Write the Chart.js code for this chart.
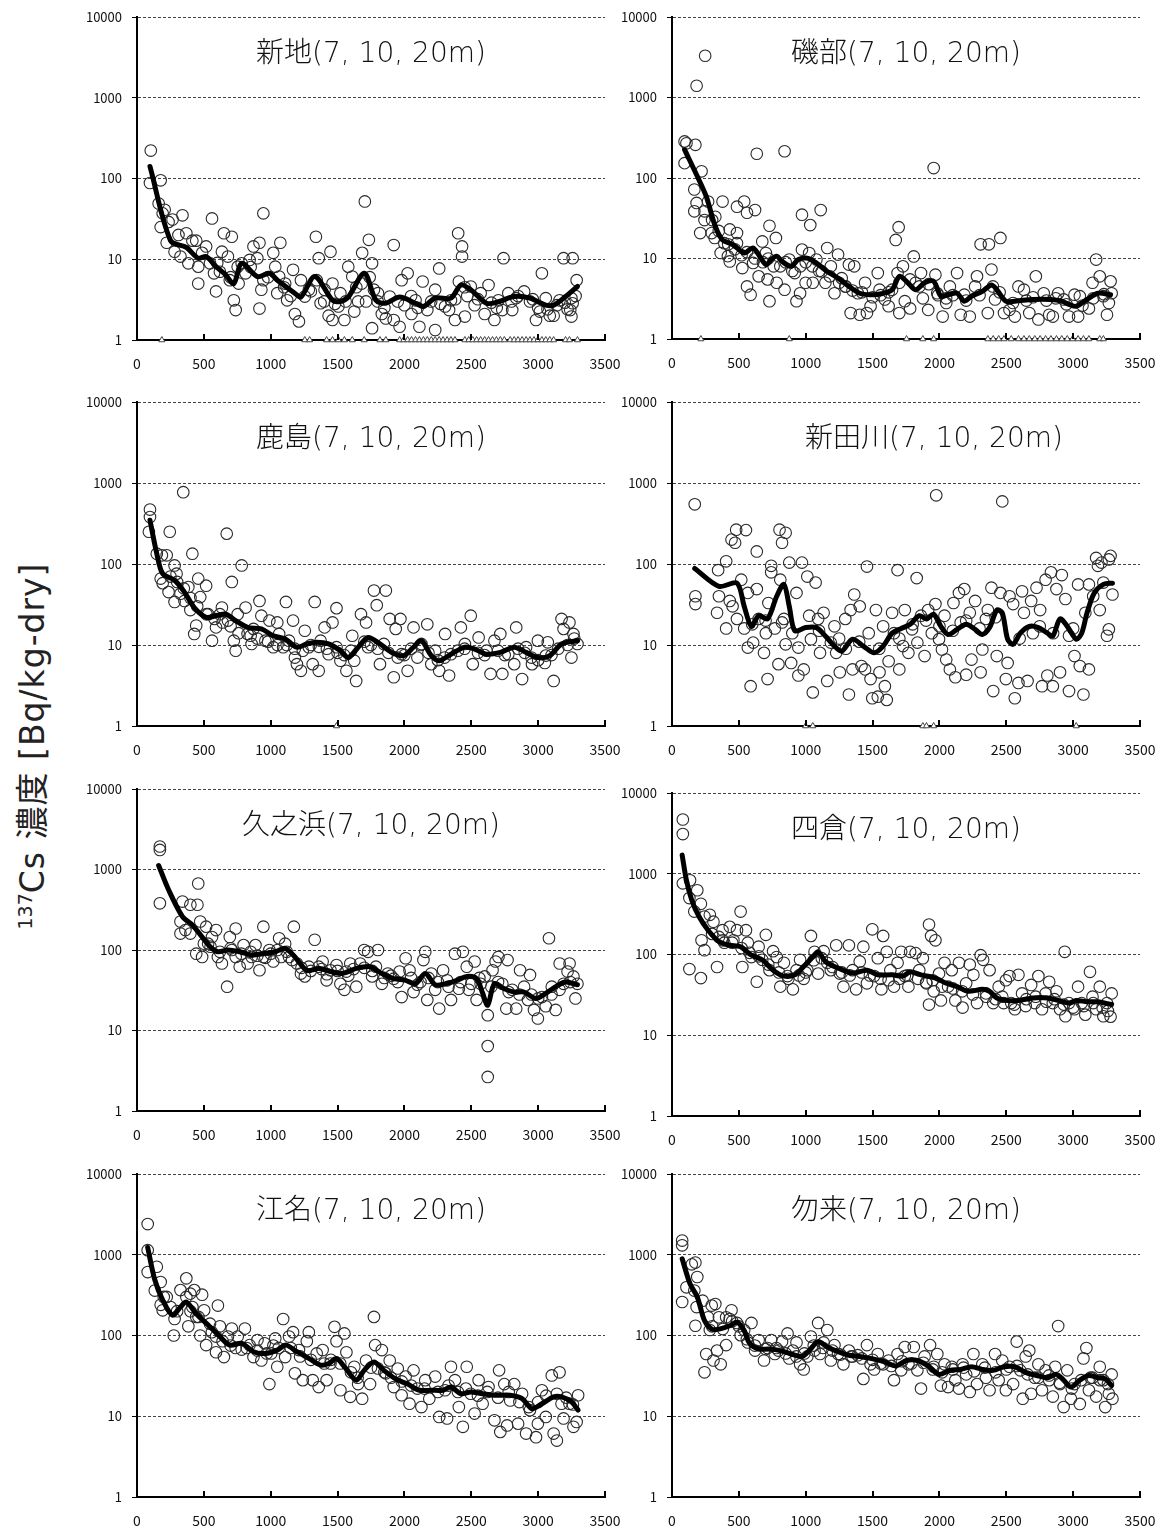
<!DOCTYPE html>
<html>
<head>
<meta charset="utf-8">
<script src="https://cdn.jsdelivr.net/npm/chart.js@4.4.0/dist/chart.umd.min.js"></script>
<style>
  body { margin: 0; background: #fff; width: 1168px; height: 1533px; position: relative; overflow: hidden;
         font-family: "Noto Sans CJK JP", "Noto Sans", sans-serif; }
  canvas { position: absolute; }
  .ttl { position: absolute; font-family: "DejaVu Sans", "Noto Sans CJK JP", sans-serif; font-weight: 300;
         font-size: 28px; line-height: 36px; color: #111; white-space: nowrap; text-align: center; }
  #ylab { position: absolute; left: 30px; top: 746px; transform: translate(-50%, -50%) rotate(-90deg);
          font-family: "DejaVu Sans", "Noto Sans CJK JP", sans-serif; letter-spacing: 1px;
          white-space: nowrap; font-size: 33px; color: #222; }
  #ylab sup { font-size: 19px; letter-spacing: 0; }
</style>
</head>
<body>
<div id="ylab"><sup>137</sup>Cs 濃度 [Bq/kg-dry]</div>
<script>
// ---- data: [elapsed days, Bq/kg-dry] ----
const xTicks = [0, 500, 1000, 1500, 2000, 2500, 3000, 3500];
const yTicks = [1, 10, 100, 1000, 10000];

// 新地
const shinchiPts = [[103,222],[97,88],[177,95],[162,49],[207,41],[177,25],[192,37],[236,29],[266,31],[340,35],[222,16],[281,12.4],[325,10.8],[310,20],[369,21],[414,17],[443,17],[384,8.9],[458,5],[458,8.1],[517,14.4],[487,12],[546,8.9],[561,32],[576,6.7],[591,4],[635,12.4],[650,21],[680,10.8],[709,19],[724,3.1],[738,2.35],[694,5.5],[753,8.1],[783,8.9],[812,6.7],[842,9.8],[871,14.4],[900,10.3],[916,2.45],[916,16],[945,37],[930,4.2],[945,5.5],[1019,12],[1034,8.1],[1049,3.8],[1072,16],[1063,6.1],[1108,5],[1123,3.1],[1167,7.4],[1181,2.1],[1211,1.7],[1226,5.5],[1255,3.45],[1285,4.2],[1338,19],[1344,5.5],[1359,10.3],[1373,2.85],[1403,4.2],[1433,2],[1447,12.4],[1462,5],[1462,1.77],[1506,2.6],[1521,3.8],[1551,1.77],[1580,8.1],[1610,6.1],[1625,2.25],[1654,3],[1684,12],[1704,52],[1713,3],[1734,17.4],[1758,8.9],[1758,1.4],[1772,4.2],[1802,3.8],[1831,2.1],[1861,1.85],[1890,3.45],[1920,15],[1920,1.77],[1964,1.46],[1979,5.5],[2024,6.7],[2053,2.1],[2083,3.1],[2112,1.46],[2136,5.3],[2171,2.35],[2230,1.33],[2230,4.2],[2260,7.7],[2304,2.6],[2334,2.35],[2348,3.1],[2378,1.77],[2402,21],[2431,14.4],[2431,10.8],[2407,5.3],[2452,1.95],[2496,4.6],[2525,2.7],[2570,3.8],[2600,2.1],[2629,4.8],[2673,1.77],[2703,3.1],[2732,2.35],[2741,10.3],[2777,3.8],[2806,2.35],[2836,3.3],[2895,4],[2939,3],[2984,1.77],[3028,6.7],[3013,2.25],[3057,3.3],[3087,2],[3116,2],[3160,3.1],[3190,10.3],[3258,10.3],[3249,3.3],[3249,1.95],[3258,2.85],[3288,5.5],[3240,2.35],
  [600,9],[620,7],[700,6],[760,5],[850,8],[980,6],[1100,4.5],[1150,3.5],[1300,4],[1400,3],[1480,2.8],[1560,3],[1640,4.5],[1680,5],[1740,6],[1800,3],[1850,2.5],[1950,3],[2000,2.7],[2050,3.5],[2100,2.5],[2200,3],[2270,2.8],[2380,3.2],[2450,4.5],[2470,3.5],[2550,3.2],[2650,2.9],[2690,2.5],[2800,3],[2850,3.5],[2960,3.2],[3000,2.5],[3070,2.4],[3140,2.7],[3200,2.9],[3220,2.4],[3280,3.5]];
const shinchiAvg = [[97,141],[251,17],[369,14],[458,10.3],[517,10.8],[591,8.1],[660,6.5],[724,5],[783,8.9],[900,6.1],[990,6.7],[1050,5.5],[1180,3.8],[1226,3.4],[1330,6.1],[1462,3.1],[1520,3],[1580,3.4],[1700,6.7],[1787,3.1],[1860,2.85],[1964,3.4],[2083,2.85],[2142,2.6],[2230,3.3],[2348,3.3],[2422,4.8],[2496,4.2],[2614,2.85],[2703,2.98],[2821,3.45],[2939,3.3],[3057,2.7],[3116,2.7],[3205,3.45],[3294,4.6]];
const shinchiNd = [186,1255,1291,1418,1462,1506,1551,1610,1699,1817,1861,1964,1994,2024,2053,2083,2112,2142,2171,2201,2230,2260,2289,2319,2348,2378,2452,2481,2511,2540,2570,2600,2629,2659,2688,2717,2747,2791,2821,2850,2880,2910,2939,2969,2998,3028,3057,3087,3116,3205,3234,3294];

// 磯部
const isobePts = [[94,285],[108,270],[175,258],[94,153],[184,1400],[248,3300],[221,121],[167,72],[184,49],[167,38.6],[211,20.7],[243,38.6],[270,51],[243,30],[297,20.7],[324,33],[319,18],[378,51],[364,11.7],[391,15.5],[432,23],[418,10.7],[432,9.2],[486,44],[486,20.7],[486,15.5],[526,7.6],[540,51],[561,37],[561,4.5],[588,3.55],[621,40],[634,200],[607,8.8],[648,6],[675,16.3],[702,11.7],[715,5.5],[729,2.95],[729,25.5],[777,18],[783,5],[810,8],[842,215],[842,4.1],[877,9.7],[918,6.6],[931,2.95],[958,3.7],[972,35],[972,12.9],[1026,11.7],[1034,26],[999,5],[1053,5],[1080,9.7],[1112,40],[1120,6.9],[1147,5],[1161,13.5],[1188,8],[1215,3.7],[1242,11.2],[1269,5.7],[1296,4.5],[1323,8.4],[1336,2.1],[1363,8],[1390,3.7],[1404,2],[1444,5],[1458,2.1],[1485,2.55],[1539,6.6],[1552,4.1],[1592,3.1],[1620,2.55],[1646,4.1],[1673,17],[1695,24.5],[1687,6.6],[1700,2.1],[1727,8],[1741,2.95],[1781,2.4],[1808,10.6],[1822,5],[1862,6.6],[1876,3.2],[1916,2.3],[1957,133],[1970,6.3],[1984,3.7],[2024,1.9],[2051,2.8],[2078,4.5],[2132,6.6],[2159,2],[2186,3.55],[2227,1.9],[2267,4.5],[2281,6],[2308,15],[2370,15],[2389,7.3],[2362,2.1],[2416,3.1],[2456,18],[2483,2.1],[2524,2.3],[2564,1.9],[2591,4.5],[2632,4.1],[2672,2.1],[2721,6],[2740,1.75],[2780,3.7],[2821,2],[2848,1.9],[2888,3.7],[2929,3.1],[2969,1.9],[3010,3.55],[3037,1.9],[3050,3.4],[3118,2.4],[3145,5],[3172,9.7],[3199,6],[3226,3.4],[3253,2],[3267,2.8],[3280,5.2],[3288,3.7],
  [300,30],[350,22],[420,15],[470,13],[520,11],[560,12],[620,10],[680,9],[720,10],[760,8],[850,9],[900,7],[960,8],[1000,9],[1050,8],[1100,7],[1180,6],[1250,5],[1300,4.5],[1350,4],[1420,3.8],[1500,3.3],[1560,3.5],[1620,3.8],[1700,5],[1780,5.5],[1850,4.5],[1920,4.8],[1990,3.5],[2050,3.2],[2100,3.5],[2200,3],[2300,3.5],[2400,4.5],[2450,3.8],[2550,2.8],[2650,3],[2700,3.3],[2800,3],[2870,3.2],[2950,2.7],[3070,2.6],[3150,3.2],[3230,3.6]];
const isobeAvg = [[94,225],[189,105],[256,59],[324,25],[378,17],[459,14.8],[540,11.7],[607,13.5],[702,8.4],[742,9.7],[783,10.7],[823,9.2],[891,8],[945,9.7],[1012,10.1],[1080,8.8],[1161,6.9],[1242,5.7],[1323,4.5],[1404,3.7],[1485,3.55],[1566,3.65],[1646,4.1],[1700,6],[1754,5.2],[1822,4.1],[1889,5],[1957,5.2],[2011,3.4],[2065,3.55],[2132,3.7],[2186,2.95],[2240,3.4],[2321,3.9],[2389,4.7],[2429,4.1],[2497,2.95],[2564,2.95],[2699,3.1],[2834,3.1],[2915,2.95],[2969,2.7],[3023,2.55],[3104,3.1],[3185,3.7],[3280,3.55]];
const isobeNd = [216,877,1754,1876,1957,2362,2402,2443,2483,2537,2591,2632,2672,2713,2753,2794,2834,2875,2915,2956,2996,3037,3077,3118,3199,3226];

// 鹿島
const kashimaPts = [[97,470],[97,380],[89,250],[245,250],[346,770],[186,128],[222,128],[148,134],[281,96],[177,66],[192,58],[236,45],[296,76],[281,34],[325,43],[355,35],[414,134],[399,27],[384,52],[443,17.4],[428,13.7],[458,66],[473,39],[517,54],[532,24],[561,11.3],[591,16.5],[620,24],[635,29],[671,237],[680,20],[709,60],[724,11.3],[738,8.5],[753,24],[783,96],[812,29],[827,13.7],[857,10.3],[871,15.8],[916,35],[930,23],[960,11.3],[990,20],[1019,9.4],[1049,19],[1063,13.7],[1093,9.4],[1114,34],[1137,11.3],[1167,20],[1181,7],[1196,5.8],[1226,4.8],[1255,15],[1285,9.4],[1314,5.8],[1329,34],[1359,4.8],[1373,11.3],[1403,16.5],[1433,7.7],[1462,19],[1492,28.5],[1492,9.4],[1521,6.4],[1566,4.8],[1610,13],[1639,3.6],[1625,6.4],[1675,24],[1713,19],[1728,9.4],[1772,47],[1793,31],[1817,5.8],[1861,47],[1846,10.3],[1890,21],[1920,4],[1935,15.8],[1970,21],[1979,7.7],[2024,4.8],[2068,16.5],[2097,7],[2127,10.3],[2171,18],[2201,5.8],[2230,8.5],[2260,4.8],[2304,13.7],[2334,4.2],[2348,7.7],[2422,16.5],[2452,10.3],[2496,23],[2511,5.8],[2555,12.4],[2614,8.5],[2644,4.4],[2673,11.3],[2717,13.7],[2732,4.4],[2777,7.7],[2836,16.5],[2821,5.8],[2880,3.8],[2910,9.4],[2954,5.8],[2998,11.3],[3057,7.4],[3072,10.8],[3116,3.6],[3175,21],[3190,15.8],[3234,19],[3249,7],[3264,13.7],[3294,10.3],
  [250,70],[300,60],[350,50],[400,38],[450,30],[520,24],[580,21],[640,19],[700,17],[760,14],[850,13],[900,12],[980,11],[1050,10],[1120,10],[1180,9],[1240,8.5],[1300,10],[1360,9.5],[1420,9],[1500,8],[1550,7.5],[1600,8.5],[1700,11],[1750,10],[1800,9],[1880,8],[1950,7],[2000,7.5],[2050,9],[2120,10],[2180,8],[2250,6.5],[2300,7],[2400,8.5],[2450,9],[2550,8],[2600,7.5],[2700,8.5],[2750,7.5],[2850,9],[2900,8],[2950,7],[3000,6.5],[3050,6],[3100,7.5],[3150,9],[3220,10],[3270,12]];
const kashimaAvg = [[97,347],[148,134],[192,76],[281,63],[355,45],[428,29],[517,22],[591,23],[665,24],[738,20],[827,16.5],[930,15.8],[1019,13],[1108,11.9],[1196,9.4],[1270,10.3],[1344,10.8],[1433,10.3],[1521,8.5],[1580,7],[1654,9.4],[1728,12.4],[1817,10.3],[1905,8.1],[1994,7.4],[2068,9.4],[2127,11.3],[2201,7.4],[2260,6.4],[2348,7.7],[2452,9.4],[2525,8.9],[2614,7.7],[2717,8.1],[2821,9.4],[2910,8.1],[2998,7],[3087,7.4],[3175,10.3],[3294,11.3]];
const kashimaNd = [1492];

// 新田川
const nittaPts = [[170,546],[175,40],[175,32],[345,84],[337,25],[351,40],[405,108],[405,16],[432,35],[445,200],[472,183],[453,30],[486,21],[480,265],[518,64],[540,16],[553,262],[567,44],[567,9.3],[588,3.1],[607,10.7],[634,143],[634,49],[648,21],[702,14],[688,8],[715,3.8],[721,33],[742,79],[742,95],[769,16],[796,5.8],[804,265],[823,183],[810,64],[823,19],[837,21],[850,243],[850,10.2],[877,104],[891,6],[931,44],[945,9.3],[945,4.2],[972,104],[985,5],[1012,70],[1026,23],[1039,11.8],[1053,2.6],[1074,59],[1093,21],[1107,8],[1134,25],[1161,3.6],[1188,10.7],[1215,17],[1228,8],[1255,4.6],[1296,21],[1323,2.45],[1336,27],[1350,5],[1363,42],[1404,30],[1417,5.5],[1444,5],[1458,93],[1471,14],[1485,3.8],[1498,2.2],[1525,27],[1539,2.3],[1552,4.6],[1579,17],[1592,3.1],[1606,2.1],[1620,6.3],[1646,25],[1660,14],[1687,84],[1700,5],[1727,9.7],[1741,27],[1768,8],[1795,15.6],[1830,67],[1835,10.7],[1862,23],[1889,7.3],[1916,27],[1943,14],[1970,32],[1976,705],[1997,11.8],[2019,8.8],[2038,23],[2051,6.6],[2078,5],[2105,33],[2119,4],[2146,44],[2159,19],[2186,49],[2200,4.3],[2227,25],[2240,6.6],[2267,35],[2308,4.6],[2321,8.8],[2348,21],[2362,27],[2389,51],[2402,2.7],[2429,7.3],[2470,593],[2456,44],[2497,3.8],[2510,6],[2524,40],[2551,32],[2564,2.2],[2591,3.4],[2618,46],[2632,25],[2659,3.6],[2686,35],[2699,14],[2726,51],[2753,27],[2767,3.1],[2794,64],[2807,4.2],[2834,79],[2848,3.1],[2875,49],[2902,4.6],[2915,73],[2942,37],[2969,13],[2969,2.7],[3010,7.3],[3037,56],[3050,5.5],[3077,2.45],[3091,25],[3118,56],[3118,5],[3172,119],[3185,95],[3199,27],[3212,104],[3226,59],[3253,13],[3267,114],[3280,126],[3267,15.6],[3294,42],
  [600,18],[700,20],[900,14],[1100,15],[1250,12],[1300,9],[1400,11],[1550,9],[1700,12],[1800,18],[1900,20],[2000,17],[2100,15],[2200,20],[2300,16],[2420,22],[2600,12],[2750,17],[2850,14],[3000,16],[3150,40]];
const nittaAvg = [[170,88],[351,53],[486,58],[540,30],[594,17],[648,23],[715,21],[783,40],[837,56],[877,30],[918,15],[999,16.4],[1080,16.4],[1147,12.9],[1215,9.7],[1269,8.4],[1350,11.8],[1431,9.7],[1512,8],[1579,9.7],[1646,14],[1714,16],[1781,18],[1849,23],[1903,21],[1957,24],[2011,17],[2065,13.5],[2132,15.6],[2200,18],[2267,15.6],[2321,13.5],[2375,16.4],[2429,27],[2470,25],[2510,11.8],[2551,10.2],[2605,14],[2672,17],[2740,16.4],[2807,14],[2848,12.9],[2902,21],[2956,17],[3023,11.8],[3064,14],[3104,25],[3158,44],[3226,56],[3294,58]];
const nittaNd = [999,1053,1876,1903,1957,3023];

// 久之浜
const hisanohamaPts = [[171,1930],[171,1750],[171,380],[340,400],[325,226],[399,365],[325,160],[362,177],[399,160],[458,670],[452,365],[473,226],[443,90],[487,82],[517,195],[532,120],[561,145],[591,177],[605,82],[635,68],[674,35],[694,145],[709,100],[738,185],[738,82],[768,62],[797,115],[827,68],[857,82],[886,115],[916,56],[945,195],[945,82],[990,100],[1019,72],[1063,140],[1078,82],[1108,120],[1137,82],[1173,195],[1196,68],[1226,51],[1255,47],[1285,62],[1329,134],[1359,62],[1388,72],[1418,42],[1447,56],[1492,65],[1521,38],[1551,32],[1566,54],[1595,68],[1640,35],[1669,68],[1699,100],[1728,95],[1758,47],[1787,62],[1802,100],[1831,38],[1876,51],[1920,44],[1964,54],[1979,26],[2009,79],[2038,56],[2068,30],[2097,37],[2142,75],[2156,95],[2171,24],[2201,51],[2230,32],[2260,18.7],[2289,56],[2319,42],[2348,24],[2378,90],[2407,33],[2437,95],[2466,62],[2481,32],[2525,72],[2540,24],[2570,38],[2600,47],[2623,15.5],[2623,6.4],[2623,2.65],[2659,56],[2682,72],[2703,82],[2732,38],[2762,18.7],[2771,75],[2806,32],[2836,18.7],[2865,56],[2895,35],[2924,24],[2939,49],[2969,18],[2998,14.1],[3028,26],[3081,140],[3057,20],[3102,35],[3131,18],[3161,68],[3190,38],[3220,54],[3235,68],[3264,47],[3279,25],[3294,38],
  [500,120],[550,110],[620,95],[700,105],[780,90],[850,95],[900,85],[960,80],[1000,90],[1050,100],[1120,95],[1160,75],[1230,60],[1300,55],[1380,58],[1420,50],[1500,55],[1580,48],[1620,58],[1700,60],[1760,55],[1850,45],[1900,48],[1950,40],[2050,45],[2120,40],[2180,45],[2250,40],[2330,35],[2420,40],[2500,38],[2560,45],[2650,35],[2700,40],[2780,30],[2860,28],[2950,28],[3000,25],[3100,28],[3160,32],[3240,40]];
const hisanohamaAvg = [[162,1120],[236,560],[340,260],[414,205],[487,145],[546,110],[605,95],[680,100],[768,95],[857,87],[945,90],[1034,95],[1108,105],[1181,82],[1270,56],[1359,59],[1447,54],[1536,51],[1640,59],[1743,62],[1831,51],[1920,44],[2009,42],[2083,38],[2156,51],[2230,37],[2304,38],[2393,42],[2466,47],[2540,44],[2585,29],[2623,20.6],[2673,38],[2747,33],[2821,30],[2895,30],[2984,25],[3057,29],[3131,35],[3205,40],[3294,37]];
const hisanohamaNd = [];

// 四倉
const yotsukuraPts = [[81,4700],[81,3100],[81,760],[135,830],[130,500],[189,625],[167,340],[216,425],[243,295],[221,150],[130,66],[216,51],[243,113],[283,310],[310,255],[337,70],[351,165],[378,200],[391,140],[432,220],[459,150],[486,200],[513,340],[526,70],[553,200],[567,140],[594,93],[634,46],[648,125],[675,86],[702,175],[729,64],[756,110],[783,93],[810,40],[837,79],[864,54],[904,37],[931,64],[958,86],[985,50],[1012,64],[1039,170],[1066,108],[1093,58],[1134,110],[1161,79],[1188,64],[1228,130],[1255,58],[1282,40],[1323,130],[1350,64],[1377,37],[1404,82],[1431,125],[1458,44],[1498,205],[1512,54],[1539,90],[1579,170],[1566,37],[1606,108],[1633,64],[1660,40],[1687,79],[1714,108],[1741,54],[1768,40],[1781,108],[1822,104],[1849,64],[1876,90],[1903,44],[1922,235],[1938,170],[1970,150],[1922,24],[1957,35],[1997,58],[2011,27],[2038,79],[2065,40],[2092,64],[2119,27],[2146,79],[2173,22],[2200,44],[2227,75],[2254,56],[2281,25],[2308,98],[2327,86],[2348,33],[2375,64],[2402,25],[2443,40],[2470,30],[2497,48],[2524,54],[2537,25],[2564,21],[2591,56],[2618,33],[2645,23],[2686,42],[2713,25],[2740,54],[2767,21],[2794,33],[2821,46],[2848,25],[2875,35],[2902,21],[2937,108],[2942,17.2],[2969,25],[3010,21],[3037,40],[3064,25],[3091,18],[3126,61],[3145,30],[3172,21],[3199,40],[3226,17.2],[3253,25],[3280,17],[3288,33],
  [300,180],[380,150],[450,140],[520,120],[580,105],[650,95],[720,75],[800,60],[870,50],[950,55],[1000,60],[1060,85],[1120,90],[1200,70],[1270,60],[1330,55],[1420,60],[1480,55],[1560,50],[1620,48],[1700,50],[1760,55],[1840,50],[1900,45],[1950,48],[2020,40],[2100,38],[2170,35],[2250,32],[2350,30],[2420,28],[2480,25],[2560,24],[2650,28],[2720,30],[2800,26],[2860,28],[2930,24],[3000,22],[3080,23],[3150,25],[3220,22],[3260,20]];
const yotsukuraAvg = [[76,1700],[108,830],[148,470],[202,295],[270,200],[351,145],[432,130],[513,125],[594,98],[675,86],[756,64],[837,54],[918,56],[985,71],[1053,93],[1093,108],[1147,82],[1242,68],[1350,59],[1458,64],[1539,56],[1646,56],[1727,54],[1781,61],[1862,56],[1970,51],[2051,44],[2132,40],[2213,35],[2321,37],[2375,35],[2429,29],[2510,27],[2591,27],[2699,29],[2807,29],[2888,27],[2969,25],[3023,27],[3104,26],[3185,26],[3288,24]];
const yotsukuraNd = [];

// 江名
const enaPts = [[80,2400],[80,1140],[80,610],[148,710],[133,360],[177,460],[192,205],[177,240],[222,300],[251,225],[281,160],[275,100],[325,365],[369,510],[369,300],[399,330],[428,365],[384,130],[414,225],[443,170],[473,100],[487,320],[502,205],[517,76],[546,140],[591,97],[591,62],[605,235],[620,130],[650,54],[680,97],[709,122],[738,70],[753,97],[783,67],[807,122],[842,76],[871,54],[901,88],[930,49],[955,80],[990,25],[1004,60],[1034,92],[1049,41],[1093,160],[1108,54],[1137,97],[1167,110],[1181,34],[1211,66],[1240,28],[1270,85],[1285,110],[1314,28],[1344,60],[1359,23],[1388,66],[1418,28],[1447,45],[1477,128],[1492,85],[1521,21],[1551,106],[1566,62],[1595,17.4],[1625,41],[1654,25],[1684,16.5],[1713,49],[1743,25],[1772,170],[1781,76],[1802,39],[1831,66],[1861,34],[1890,49],[1920,23],[1950,39],[1979,18.2],[2009,31],[2038,14.3],[2068,37],[2097,22],[2127,13],[2156,28],[2186,16.5],[2230,31],[2260,9.8],[2304,21],[2319,9.4],[2348,41],[2378,28],[2407,13],[2437,7.4],[2466,41],[2496,19],[2525,10.8],[2555,28],[2585,14.3],[2629,23],[2673,8.9],[2708,37],[2717,6.4],[2747,25],[2768,7.7],[2791,15.7],[2821,25],[2850,8.1],[2880,19],[2910,6.1],[2939,11.9],[2984,5.5],[2998,8.1],[3028,21],[3057,9.8],[3102,32],[3116,6.1],[3140,5],[3160,35],[3175,14.3],[3190,9.4],[3234,14.3],[3264,7.4],[3288,8.5],[3299,18.2],
  [200,300],[300,200],[400,200],[460,170],[560,110],[640,85],[700,75],[820,70],[900,65],[970,60],[1020,75],[1060,70],[1150,70],[1220,55],[1300,50],[1400,45],[1450,50],[1520,45],[1600,35],[1650,30],[1750,40],[1850,35],[1900,30],[1980,27],[2050,24],[2150,22],[2250,20],[2330,24],[2400,20],[2460,22],[2550,18],[2620,20],[2700,17],[2780,20],[2860,15],[2930,13],[3000,15],[3060,18],[3140,19],[3210,17],[3260,14]];
const enaAvg = [[80,1230],[133,490],[192,275],[266,178],[325,225],[369,260],[443,186],[532,135],[620,97],[694,76],[783,80],[871,63],[960,60],[1049,66],[1114,76],[1196,63],[1285,52],[1373,43],[1433,45],[1492,52],[1551,41],[1640,28],[1699,37],[1772,47],[1846,37],[1935,29],[2024,25],[2112,21],[2201,21],[2289,21],[2348,23],[2422,19],[2496,20],[2585,19],[2688,18.2],[2791,18.2],[2880,16.5],[2954,12.4],[3028,14.3],[3116,17.4],[3175,17.4],[3249,15.1],[3299,11.9]];
const enaNd = [];

// 勿来
const nakosoPts = [[76,1500],[76,1310],[76,260],[108,395],[148,760],[175,800],[189,530],[167,360],[184,225],[175,132],[229,270],[243,35],[256,59],[270,168],[297,235],[283,117],[310,49],[324,245],[337,65],[351,168],[364,44],[405,76],[405,168],[432,160],[445,205],[486,143],[513,101],[540,117],[567,82],[594,143],[621,65],[648,88],[688,49],[715,70],[742,88],[769,59],[796,65],[823,84],[864,106],[877,52],[904,65],[931,82],[958,44],[985,38],[1012,55],[1039,97],[1066,65],[1093,143],[1107,59],[1134,82],[1161,117],[1188,49],[1215,76],[1242,59],[1282,44],[1323,65],[1350,55],[1390,57],[1431,29],[1458,76],[1485,44],[1512,38],[1539,59],[1579,44],[1620,49],[1660,28],[1687,59],[1714,37],[1741,72],[1768,44],[1808,72],[1835,37],[1862,22],[1889,55],[1930,76],[1957,41],[1984,59],[2011,24],[2038,44],[2065,23],[2092,41],[2119,28],[2146,22],[2173,44],[2200,33],[2227,20],[2254,59],[2281,25],[2321,44],[2348,30],[2375,21],[2416,59],[2443,28],[2470,49],[2497,21],[2524,41],[2551,25],[2578,84],[2605,37],[2623,16.5],[2645,55],[2672,65],[2686,19],[2713,30],[2740,44],[2767,21],[2794,37],[2821,28],[2848,17.5],[2866,41],[2888,131],[2902,25],[2929,13],[2956,37],[2983,16.5],[3010,25],[3050,14.2],[3077,52],[3099,70],[3118,21],[3145,30],[3172,17.5],[3199,41],[3226,28],[3240,13],[3267,19],[3288,33],[3294,16.5],
  [300,130],[380,120],[450,150],[500,130],[560,90],[620,75],[700,68],[780,70],[850,60],[930,55],[990,60],[1060,75],[1130,70],[1200,65],[1260,58],[1340,55],[1420,52],[1500,50],[1560,45],[1640,42],[1720,48],[1790,45],[1880,46],[1950,38],[2020,35],[2100,38],[2180,40],[2260,36],[2340,40],[2420,35],[2500,38],[2580,42],[2660,33],[2740,30],[2820,32],[2900,26],[2990,22],[3060,28],[3130,30],[3200,28],[3260,25]];
const nakosoAvg = [[76,890],[135,435],[189,300],[243,153],[297,120],[351,120],[432,132],[486,146],[540,115],[580,80],[648,68],[729,68],[810,65],[891,59],[972,55],[1026,65],[1093,84],[1161,72],[1242,63],[1323,57],[1404,55],[1485,52],[1592,47],[1673,42],[1754,49],[1835,49],[1916,42],[1997,33],[2078,37],[2159,38],[2240,41],[2321,38],[2402,37],[2483,41],[2564,41],[2645,35],[2726,32],[2807,30],[2875,33],[2929,28],[2983,23],[3050,28],[3118,32],[3185,30],[3240,29],[3288,24]];
const nakosoNd = [];

// ---- layout ----
const panels = [
  { title: '新地(7, 10, 20m)',   pts: shinchiPts,    avg: shinchiAvg,    nd: shinchiNd,    left: 137, top: 17,   h: 323, shift: 0 },
  { title: '磯部(7, 10, 20m)',   pts: isobePts,      avg: isobeAvg,      nd: isobeNd,      left: 672, top: 17,   h: 322, shift: 0 },
  { title: '鹿島(7, 10, 20m)',   pts: kashimaPts,    avg: kashimaAvg,    nd: kashimaNd,    left: 137, top: 402,  h: 324, shift: 0 },
  { title: '新田川(7, 10, 20m)', pts: nittaPts,      avg: nittaAvg,      nd: nittaNd,      left: 672, top: 402,  h: 324, shift: 28 },
  { title: '久之浜(7, 10, 20m)', pts: hisanohamaPts, avg: hisanohamaAvg, nd: hisanohamaNd, left: 137, top: 789,  h: 322, shift: 0 },
  { title: '四倉(7, 10, 20m)',   pts: yotsukuraPts,  avg: yotsukuraAvg,  nd: yotsukuraNd,  left: 672, top: 793,  h: 323, shift: 0 },
  { title: '江名(7, 10, 20m)',   pts: enaPts,        avg: enaAvg,        nd: enaNd,        left: 137, top: 1174, h: 323, shift: 0 },
  { title: '勿来(7, 10, 20m)',   pts: nakosoPts,     avg: nakosoAvg,     nd: nakosoNd,     left: 672, top: 1174, h: 323, shift: 0 }
];
const AXW = 70, PADT = 22, PADR = 36, XAXH = 38, PW = 468;
const tickFont = { family: '"Noto Sans CJK JP", "Noto Sans", sans-serif' };

// small upward tick marks on the x axis, like the original
const innerTicks = {
  id: 'innerTicks',
  afterDatasetsDraw(chart) {
    const xs = chart.scales.x, ctx = chart.ctx, b = chart.chartArea.bottom;
    ctx.save();
    ctx.strokeStyle = '#000';
    ctx.lineWidth = 2;
    xTicks.slice(1).forEach(v => {
      const px = Math.round(xs.getPixelForValue(v));
      ctx.beginPath(); ctx.moveTo(px, b); ctx.lineTo(px, b - 6); ctx.stroke();
    });
    ctx.restore();
  }
};

panels.forEach(p => {
  const cv = document.createElement('canvas');
  const w = AXW + PW + PADR, h = PADT + p.h + XAXH;
  cv.width = w; cv.height = h;
  cv.style.left = (p.left - AXW) + 'px';
  cv.style.top = (p.top - PADT) + 'px';
  cv.style.width = w + 'px'; cv.style.height = h + 'px';
  document.body.appendChild(cv);

  new Chart(cv, {
    type: 'scatter',
    data: {
      datasets: [
        {
          type: 'line',
          data: p.avg.map(([x, y]) => ({ x, y })),
          borderColor: '#000',
          borderWidth: 5,
          pointRadius: 0,
          tension: 0.3,
          borderJoinStyle: 'round',
          borderCapStyle: 'round',
          order: 0
        },
        {
          data: p.pts.map(([x, y]) => ({ x, y })),
          pointRadius: 5.8,
          pointBackgroundColor: 'rgba(0,0,0,0)',
          pointBorderColor: '#2a2a2a',
          pointBorderWidth: 1.1,
          order: 1
        },
        {
          data: p.nd.map(x => ({ x, y: 1 })),
          pointStyle: 'triangle',
          pointRadius: 3.5,
          pointBackgroundColor: '#fff',
          pointBorderColor: '#444',
          pointBorderWidth: 1,
          clip: false,
          order: 2
        }
      ]
    },
    options: {
      responsive: false,
      animation: false,
      events: [],
      layout: { padding: { top: PADT, right: PADR, left: 0, bottom: 0 } },
      plugins: { legend: { display: false }, tooltip: { enabled: false } },
      scales: {
        x: {
          type: 'linear', min: 0, max: 3500,
          afterBuildTicks: s => { s.ticks = xTicks.map(v => ({ value: v })); },
          afterFit: s => { s.height = XAXH; },
          ticks: { callback: v => String(v), font: { ...tickFont, size: 14 }, color: '#111', padding: 15, maxRotation: 0 },
          grid: { display: false, drawTicks: false },
          border: { display: true, color: '#000', width: 2 }
        },
        y: {
          type: 'logarithmic', min: 1, max: 10000,
          afterBuildTicks: s => { s.ticks = yTicks.map(v => ({ value: v })); },
          afterFit: s => { s.width = AXW; },
          ticks: { callback: v => String(v), font: { ...tickFont, size: 13 }, color: '#111', padding: 10 },
          grid: { color: '#444', lineWidth: 1, drawTicks: true, tickLength: 5, tickColor: '#000' },
          border: { display: true, color: '#000', width: 2, dash: [3, 2] }
        }
      }
    },
    plugins: [innerTicks]
  });

  const t = document.createElement('div');
  t.className = 'ttl';
  t.textContent = p.title;
  t.style.left = (p.left + p.shift) + 'px';
  t.style.width = PW + 'px';
  t.style.top = (p.top + 18) + 'px';
  document.body.appendChild(t);
});
</script>
</body>
</html>
